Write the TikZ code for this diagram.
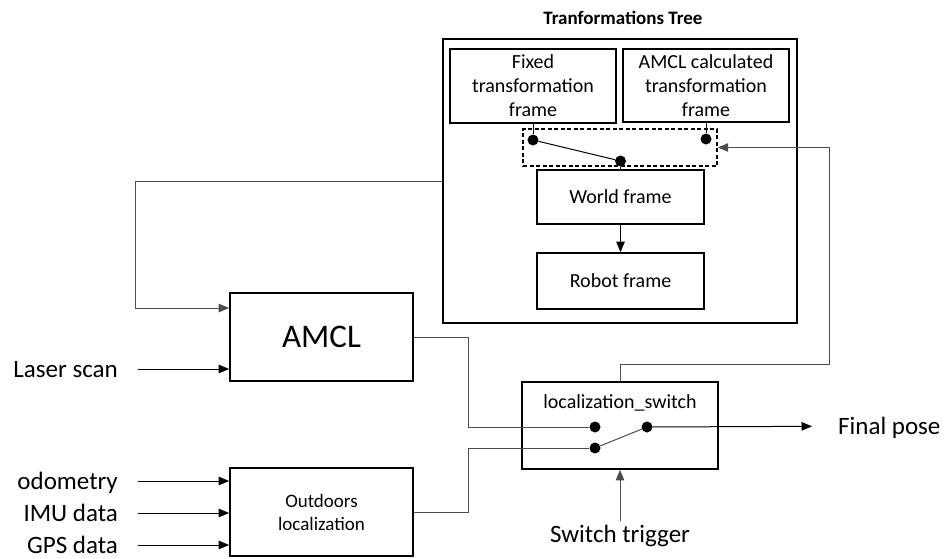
\documentclass[tikz,border=0pt]{standalone}
\usepackage{fontspec}
\setmainfont{Carlito}
\usetikzlibrary{arrows.meta}

\tikzset{
  blk/.style={draw, line width=1.7pt, align=center, inner sep=0pt, font=\fontsize{20}{24}\selectfont},
  wire/.style={line width=1pt, draw=black!70},
  sig/.style={line width=1pt, -{Triangle[length=10.5pt,width=8.5pt]}},
  contact/.style={circle, fill, inner sep=0pt, minimum size=11pt},
  lbl/.style={font=\fontsize{25}{30}\selectfont, text depth=0pt, inner ysep=0pt},
}

\begin{document}
\begin{tikzpicture}[x=1pt, y=-1pt]
      \useasboundingbox (0,0) rectangle (944,558);
      % Paths, nodes and wires:
      \node[font=\bfseries\fontsize{19}{23}\selectfont] (title) at (623,18) {Tranformations Tree};
      \node[blk, minimum width=354pt, minimum height=284pt] (tree) at (620,181) {};
      \node[blk, minimum width=166pt, minimum height=74pt] (fixed) at (533,86) {Fixed\\transformation\\frame};
      \node[blk, minimum width=166pt, minimum height=73pt] (calc) at (706,85.5) {AMCL calculated\\transformation\\frame};
      \node[draw, line width=1.4pt, dash pattern=on 4pt off 2.5pt, minimum width=194pt, minimum height=37pt] (sel) at (620,147.5) {};
      \node[blk, minimum width=167pt, minimum height=54pt] (world) at (620.5,197) {World frame};
      \node[blk, minimum width=167pt, minimum height=56pt] (robot) at (620.5,281) {Robot frame};
      \node[contact] (fdot) at (533,140) {};
      \node[contact] (cdot) at (706,139) {};
      \node[contact] (wdot) at (620.5,161) {};
      \draw[line width=1pt] (fixed.south) -- (fdot);
      \draw[line width=1pt] (calc.south) -- (cdot);
      \draw[line width=1pt] (fdot) -- (wdot);
      \draw[line width=1pt] (wdot) -- (world.north);
      \draw[sig] (world) -- (robot);

      \node[blk, minimum width=183pt, minimum height=88pt, font=\fontsize{33}{40}\selectfont] (amcl) at (321.5,337) {AMCL};
      \node[blk, minimum width=183pt, minimum height=88pt, font=\fontsize{19}{23}\selectfont] (outdoors) at (321.5,512) {Outdoors\\localization};
      \node[blk, minimum width=196pt, minimum height=87pt] (switch) at (620,425.5) {};
      \node[font=\fontsize{20}{24}\selectfont] (swname) at (620,403) {localization\_switch};
      \node[contact] (sa) at (595,427) {};
      \node[contact] (sb) at (595,448) {};
      \node[contact] (sc) at (647,427) {};
      \draw[wire] (sb) -- (sc);

      \node[lbl, anchor=east, inner xsep=20pt] (laser) at (138,369) {Laser scan};
      \node[lbl, anchor=east, inner xsep=20pt] (odom) at (138,481) {odometry};
      \node[lbl, anchor=east, inner xsep=20pt] (imu) at (138,513) {IMU data};
      \node[lbl, anchor=east, inner xsep=20pt] (gps) at (138,545) {GPS data};
      \node[lbl, anchor=west, inner xsep=26pt] (final) at (812,426) {Final pose};
      \node[font=\fontsize{25}{30}\selectfont, anchor=base, inner ysep=3pt] (trig) at (620,542) {Switch trigger};

      \draw[sig] (laser) -- (laser -| amcl.west);
      \draw[sig] (odom) -- (odom -| outdoors.west);
      \draw[sig] (imu) -- (imu -| outdoors.west);
      \draw[sig] (gps) -- (gps -| outdoors.west);
      \draw[wire, sig] (tree.west) -- ++(-307,0) |- ([yshift=29pt]amcl.west);
      \draw[wire] (amcl.east) -- ++(55,0) |- (sa);
      \draw[wire] (outdoors.east) -- ++(55,0) |- (sb);
      \draw[sig] (sc) -- (final);
      \draw[wire, sig] (switch.north) -- ++(0,-17) -| ([xshift=112pt]sel.east) -- (sel.east);
      \draw[wire, sig] (trig) -- (switch.south);
\end{tikzpicture}
\end{document}
